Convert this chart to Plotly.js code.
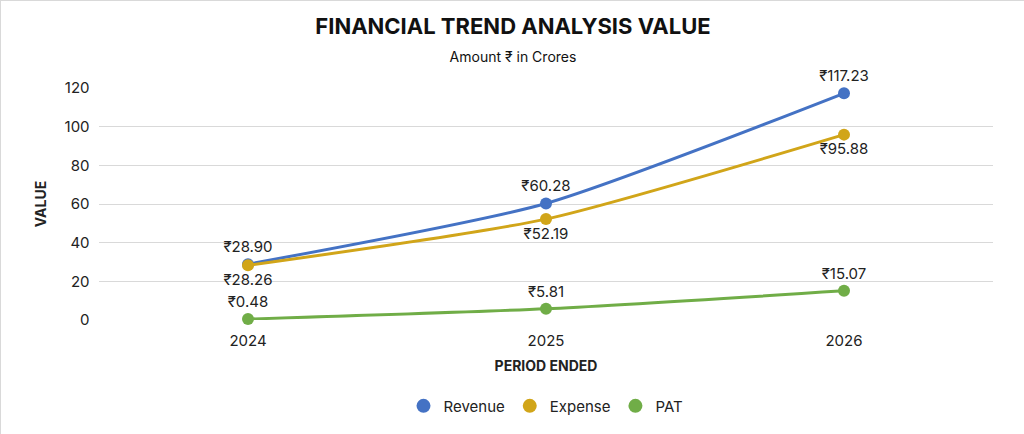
<!DOCTYPE html>
<html>
<head>
<meta charset="utf-8">
<script src="https://cdn.plot.ly/plotly-3.0.1.min.js"></script>
<style>
  html, body { margin: 0; padding: 0; background: #fff; }
  #chart { width: 1024px; height: 434px; box-sizing: border-box; border: 1px solid #d9d9d9; }
</style>
</head>
<body>
<div id="chart"></div>
<script>
var years = ['2024', '2025', '2026'];
var revenue = [28.90, 60.28, 117.23];
var expense = [28.26, 52.19, 95.88];
var pat = [0.48, 5.81, 15.07];

function fmt(v) { return '₹' + v.toFixed(2); }

function makeTrace(name, values, color, positions) {
  return {
    x: years,
    y: values,
    name: name,
    type: 'scatter',
    mode: 'lines+markers+text',
    line: { color: color, width: 3, shape: 'spline', smoothing: 0.6 },
    marker: { color: color, size: 12 },
    text: values.map(fmt),
    textposition: positions,
    textfont: { size: 15, color: '#222' },
    cliponaxis: false,
    showlegend: false,
  };
}

// marker-only copies so the legend shows dots
function legendTrace(name, color) {
  return {
    x: [null], y: [null], name: name, type: 'scatter', mode: 'markers',
    marker: { color: color, size: 14 },
  };
}

var traces = [
  makeTrace('Revenue', revenue, '#4472C4', ['top center', 'top center', 'top center']),
  makeTrace('Expense', expense, '#D1A519', ['bottom center', 'bottom center', 'bottom center']),
  makeTrace('PAT', pat, '#70AD47', ['top center', 'top center', 'top center']),
  legendTrace('Revenue', '#4472C4'),
  legendTrace('Expense', '#D1A519'),
  legendTrace('PAT', '#70AD47'),
];

var layout = {
  width: 1024,
  height: 434,
  paper_bgcolor: '#fff',
  plot_bgcolor: '#fff',
  font: { family: 'Inter, "Open Sans", sans-serif', color: '#222' },
  title: {
    text: '<b>FINANCIAL TREND ANALYSIS VALUE</b><br><span style="font-size:14px">Amount ₹ in Crores</span>',
    font: { size: 22, color: '#111' },
    x: 0.5, xanchor: 'center', y: 0.925, yanchor: 'top',
  },
  xaxis: {
    type: 'category',
    range: [-0.5, 2.5],
    showgrid: false,
    showline: false,
    ticks: '',
    ticklabelstandoff: 10,
    tickfont: { size: 15 },
    title: { text: '<b>PERIOD ENDED</b>', font: { size: 14 }, standoff: 12 },
  },
  yaxis: {
    range: [0, 120],
    dtick: 20,
    gridcolor: '#d9d9d9',
    zeroline: false,
    tickfont: { size: 15 },
    ticksuffix: '  ',
    title: { text: '<b>VALUE</b>', font: { size: 14 }, standoff: 14 },
  },
  legend: {
    orientation: 'h', x: 0.5, xanchor: 'center', y: -0.3, yanchor: 'top',
    font: { size: 15 },
  },
  margin: { t: 87, r: 32, b: 106, l: 98 },
  showlegend: true,
};

Plotly.newPlot('chart', traces, layout, { displayModeBar: false });
</script>
</body>
</html>
